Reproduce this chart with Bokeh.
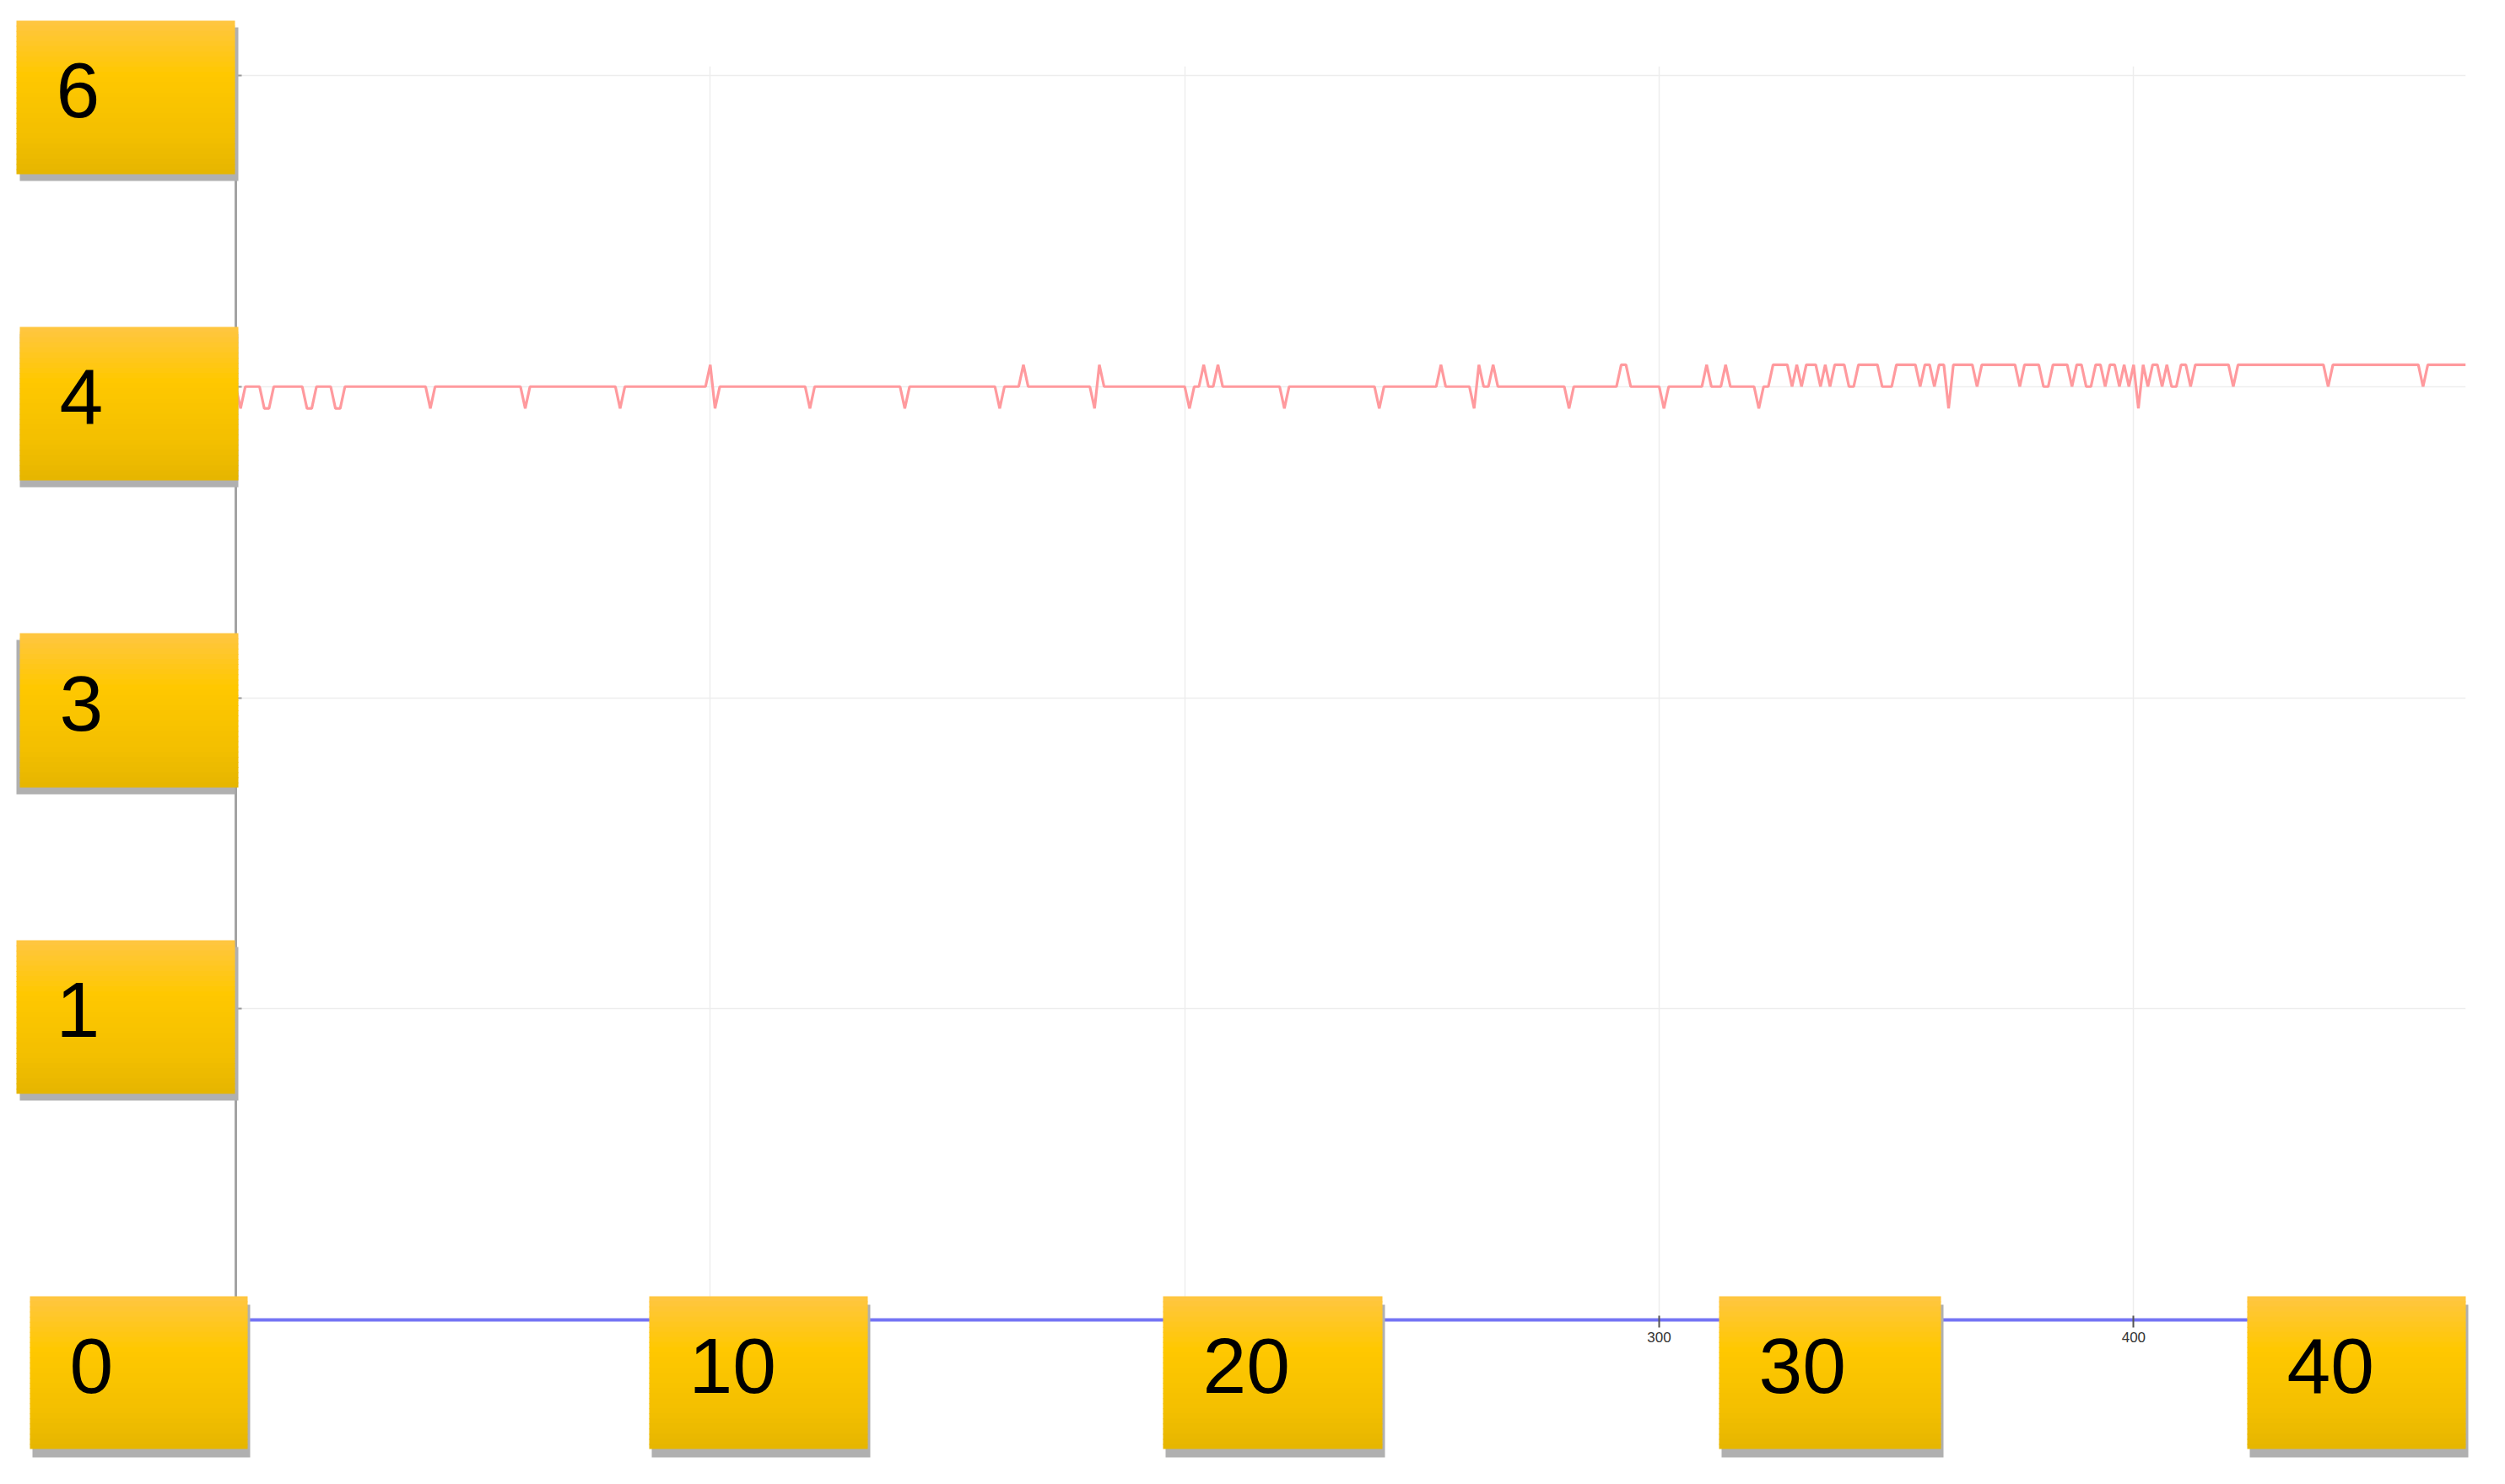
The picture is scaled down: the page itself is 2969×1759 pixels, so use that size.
from bokeh.plotting import figure
from bokeh.models import Range1d, FixedTicker, ColumnDataSource
from bokeh.core.properties import value
from bokeh.embed import file_html
from bokeh.resources import INLINE

# ---------------- data ----------------
L, M, H = 2.93, 3.00, 3.07   # the three levels the red trace takes

red_x = list(range(0, 471))
red_y = [
    M, L, M, M, M, M, L, L, M, M,   # 0
    M, M, M, M, M, L, L, M, M, M,   # 10
    M, L, L, M, M, M, M, M, M, M,   # 20
    M, M, M, M, M, M, M, M, M, M,   # 30
    M, L, M, M, M, M, M, M, M, M,   # 40
    M, M, M, M, M, M, M, M, M, M,   # 50
    M, L, M, M, M, M, M, M, M, M,   # 60
    M, M, M, M, M, M, M, M, M, M,   # 70
    M, L, M, M, M, M, M, M, M, M,   # 80
    M, M, M, M, M, M, M, M, M, M,   # 90
    H, L, M, M, M, M, M, M, M, M,   # 100
    M, M, M, M, M, M, M, M, M, M,   # 110
    M, L, M, M, M, M, M, M, M, M,   # 120
    M, M, M, M, M, M, M, M, M, M,   # 130
    M, L, M, M, M, M, M, M, M, M,   # 140
    M, M, M, M, M, M, M, M, M, M,   # 150
    M, L, M, M, M, M, H, M, M, M,   # 160
    M, M, M, M, M, M, M, M, M, M,   # 170
    M, L, H, M, M, M, M, M, M, M,   # 180
    M, M, M, M, M, M, M, M, M, M,   # 190
    M, L, M, M, H, M, M, H, M, M,   # 200
    M, M, M, M, M, M, M, M, M, M,   # 210
    M, L, M, M, M, M, M, M, M, M,   # 220
    M, M, M, M, M, M, M, M, M, M,   # 230
    M, L, M, M, M, M, M, M, M, M,   # 240
    M, M, M, M, H, M, M, M, M, M,   # 250
    M, L, H, M, M, H, M, M, M, M,   # 260
    M, M, M, M, M, M, M, M, M, M,   # 270
    M, L, M, M, M, M, M, M, M, M,   # 280
    M, M, H, H, M, M, M, M, M, M,   # 290
    M, L, M, M, M, M, M, M, M, M,   # 300
    H, M, M, M, H, M, M, M, M, M,   # 310
    M, L, M, M, H, H, H, H, M, H,   # 320
    M, H, H, H, M, H, M, H, H, H,   # 330
    M, M, H, H, H, H, H, M, M, M,   # 340
    H, H, H, H, H, M, H, H, M, H,   # 350
    H, L, H, H, H, H, H, M, H, H,   # 360
    H, H, H, H, H, H, M, H, H, H,   # 370
    H, M, M, H, H, H, H, M, H, H,   # 380
    M, M, H, H, M, H, H, M, H, M,   # 390
    H, L, H, M, H, H, M, H, M, M,   # 400
    H, H, M, H, H, H, H, H, H, H,   # 410
    H, M, H, H, H, H, H, H, H, H,   # 420
    H, H, H, H, H, H, H, H, H, H,   # 430
    H, M, H, H, H, H, H, H, H, H,   # 440
    H, H, H, H, H, H, H, H, H, H,   # 450
    H, M, H, H, H, H, H, H, H, H,   # 460
    H,                              # 470
]

blue_x = [0, 470]
blue_y = [0, 0]

x_ticks = [0, 100, 200, 300, 400]
x_tick_labels = ["", "", "", "300", "400"]
y_ticks = [0, 1, 2, 3, 4]

y_badge_labels = ["6", "4", "3", "1"]
x_badge_labels = ["0", "10", "20", "30", "40"]

# ---------------- layout (canvas pixels) ----------------
W, HT = 2960, 1750
FL, FR, FT, FB = 279, 2922, 78, 1568          # plot frame edges
X0, X1 = 0, 470
Y0, Y1 = -0.0108, 4.0299

left_badge_geom = [(19, 278, 24, 206, 4), (23, 282, 387, 569, 0),
                   (23, 282, 750, 933, -4), (19, 278, 1114, 1296, 4)]
bottom_badge_x = [(35, 293), (769, 1028), (1378, 1638), (2037, 2300), (2663, 2922)]
BT, BB = 1536, 1717


def to_dx(xc):
    return X0 + (xc - FL) / (FR - FL) * (X1 - X0)


def to_dy(yc):
    return Y1 - (yc - FT) / (FB - FT) * (Y1 - Y0)


STOPS = [(0.0, (255, 198, 66)), (0.35, (255, 200, 0)),
         (0.75, (243, 191, 0)), (1.0, (229, 181, 0))]


def grad(t):
    for (t0, c0), (t1, c1) in zip(STOPS[:-1], STOPS[1:]):
        if t <= t1:
            f = (t - t0) / (t1 - t0)
            return "#%02x%02x%02x" % tuple(round(a + (b - a) * f) for a, b in zip(c0, c1))
    return "#%02x%02x%02x" % STOPS[-1][1]


p = figure(width=W, height=HT, output_backend="svg", toolbar_location=None,
           x_range=Range1d(X0, X1), y_range=Range1d(Y0, Y1),
           min_border_left=FL, min_border_right=W - FR,
           min_border_top=FT, min_border_bottom=HT - FB)
p.outline_line_color = None
p.background_fill_color = "white"
p.border_fill_color = "white"

# grid
p.xgrid.ticker = FixedTicker(ticks=x_ticks)
p.ygrid.ticker = FixedTicker(ticks=y_ticks)
p.grid.grid_line_color = "#ededed"
p.grid.grid_line_width = 1.5

# x axis
p.xaxis.ticker = FixedTicker(ticks=x_ticks)
p.xaxis.major_label_overrides = {t: s for t, s in zip(x_ticks, x_tick_labels)}
p.xaxis.axis_line_color = None
p.xaxis.major_tick_in = 9
p.xaxis.major_tick_out = 5
p.xaxis.major_tick_line_color = "#555555"
p.xaxis.major_tick_line_width = 2
p.xaxis.minor_tick_line_color = None
p.xaxis.major_label_text_font = "Liberation Sans"
p.xaxis.major_label_text_font_size = "17px"
p.xaxis.major_label_text_color = "#333333"
p.xaxis.major_label_standoff = 5

# y axis
p.yaxis.ticker = FixedTicker(ticks=y_ticks)
p.yaxis.major_label_overrides = {t: "" for t in y_ticks}
p.yaxis.axis_line_color = "#a3a3a3"
p.yaxis.axis_line_width = 3
p.yaxis.major_tick_in = 7
p.yaxis.major_tick_out = 0
p.yaxis.major_tick_line_color = "#999999"
p.yaxis.major_tick_line_width = 2
p.yaxis.minor_tick_line_color = None

# series
p.line(red_x, red_y, line_color="#ff9a9e", line_width=3.2)
p.line(blue_x, blue_y, line_color="#7474f4", line_width=4)

# badges (drawn above the axes, at overlay level)
N = 30
boxes = []
for (l, r, t, b, sdx), txt in zip(left_badge_geom, y_badge_labels):
    boxes.append((l, r, t, b, sdx, 8, txt))
for (l, r), txt in zip(bottom_badge_x, x_badge_labels):
    boxes.append((l, r, BT, BB, 3, 10, txt))

sh = dict(left=[], right=[], top=[], bottom=[])
st = dict(left=[], right=[], top=[], bottom=[], color=[])
tx = dict(x=[], y=[], text=[])
for (l, r, t, b, sdx, sdy, txt) in boxes:
    sh["left"].append(to_dx(l + sdx)); sh["right"].append(to_dx(r + sdx))
    sh["top"].append(to_dy(t + sdy)); sh["bottom"].append(to_dy(b + sdy))
    h = b - t
    for i in range(N):
        y_top = t + h * i / N
        y_bot = min(b, t + h * (i + 1) / N + 1)
        st["left"].append(to_dx(l)); st["right"].append(to_dx(r))
        st["top"].append(to_dy(y_top)); st["bottom"].append(to_dy(y_bot))
        st["color"].append(grad((i + 0.5) / N))
    tx["x"].append(to_dx(l + 47)); tx["y"].append(to_dy(t + 0.455 * h)); tx["text"].append(txt)

p.quad(left="left", right="right", top="top", bottom="bottom",
       source=ColumnDataSource(sh), fill_color="#b0b0b0", line_color=None,
       level="overlay")
p.quad(left="left", right="right", top="top", bottom="bottom",
       source=ColumnDataSource(st), fill_color="color", line_color=None,
       level="overlay")
p.text(x="x", y="y", text="text", source=ColumnDataSource(tx),
       text_font=value("Liberation Sans"), text_font_size="93px",
       text_align="left", text_baseline="middle", text_color="#000000",
       level="overlay")

open("out.html", "w").write(file_html(p, INLINE))
